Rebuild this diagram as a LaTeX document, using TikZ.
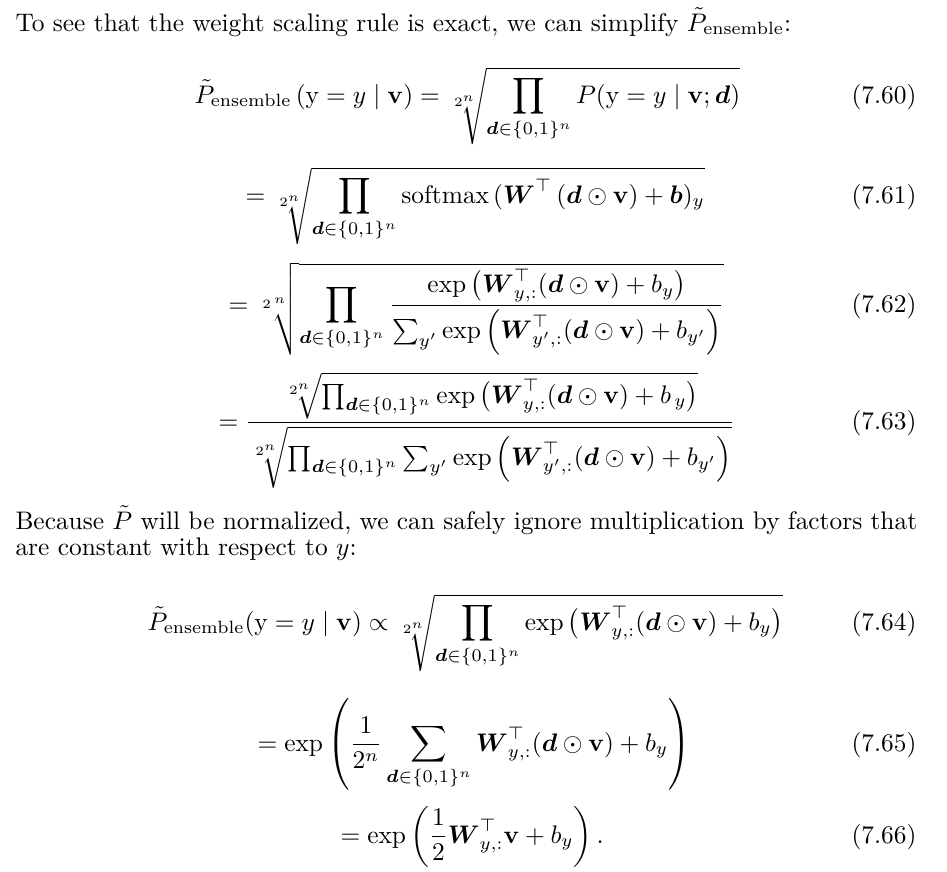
\documentclass[tikz,border=0pt]{standalone}
\usepackage{amsmath,amssymb}
\newcommand{\Pens}{\tilde{P}_{\text{ensemble}}}
\newcommand{\dvec}{\boldsymbol{d}}
\newcommand{\Wy}[1]{\boldsymbol{W}_{#1,:}^{\top}}
\newcommand{\dset}{\dvec\in\{0,1\}^n}
\begin{document}
\begin{tikzpicture}[x=0.3937pt,y=-0.3937pt,
    eqn/.style={anchor=base west,inner sep=0pt},
    eqnum/.style={anchor=base east,inner sep=0pt},
    textline/.style={anchor=base west,inner sep=0pt}]
            \useasboundingbox (0,0) rectangle (947,871);
            \node[textline] (intro) at (15,31)
              {To see that the weight scaling rule is exact, we can simplify $\Pens$:};
            \node[eqn] (e60) at (194,103)
              {$\displaystyle \Pens\,(\mathrm{y}=y\mid\mathbf{v}) = \sqrt[2^n]{\prod_{\dset} P(\mathrm{y}=y\mid\mathbf{v};\dvec)}$};
            \node[eqn] (e61) at (245,203)
              {$\displaystyle = \sqrt[2^n]{\prod_{\dset} \operatorname{softmax}\,(\boldsymbol{W}^{\top}\,(\dvec\odot\mathbf{v})+\boldsymbol{b})_y}$};
            \node[eqn] (e62) at (228,312)
              {$\displaystyle = \sqrt[2^{\,n}]{\prod_{\dset} \frac{\exp\,\bigl(\Wy{y}(\dvec\odot\mathbf{v})+b_y\bigr)}{\sum_{y'}\exp\,\Bigl(\Wy{y'}(\dvec\odot\mathbf{v})+b_{y'}\Bigr)}}$};
            \node[eqn] (e63) at (218,429)
              {$\displaystyle = \frac{\sqrt[2^n]{\prod_{\dset}\exp\,\bigl(\Wy{y}(\dvec\odot\mathbf{v})+b_{\,y}\bigr)}}{\sqrt[2^n]{\prod_{\dset}\sum_{y'}\exp\,\Bigl(\Wy{y'}(\dvec\odot\mathbf{v})+b_{y'}\Bigr)}}$};
            \node[textline] (because) at (15,529)
              {\makebox[355pt][s]{Because $\tilde{P}$ will be normalized, we can safely ignore multiplication by factors that}};
            \node[textline] (constant) at (15,555)
              {are constant with respect to $y$:};
            \node[eqn] (e64) at (147,630)
              {$\displaystyle \Pens(\mathrm{y}=y\mid\mathbf{v}) \propto \sqrt[2^n]{\prod_{\dset}\exp\,\bigl(\Wy{y}(\dvec\odot\mathbf{v})+b_y\bigr)}$};
            \node[eqn] (e65) at (257,751)
              {$\displaystyle = \exp\left(\frac{1}{2^n}\sum_{\dset}\Wy{y}(\dvec\odot\mathbf{v})+b_y\right)$};
            \node[eqn] (e66) at (340,843)
              {$\displaystyle = \exp\left(\frac{1}{2}\Wy{y}\mathbf{v}+b_y\right).$};
            % equation numbers
            \foreach \num/\ypos in {60/103,61/203,62/312,63/429,64/630,65/751,66/843}
              \node[eqnum] (n\num) at (917,\ypos) {(7.\num)};
            \end{tikzpicture}
\end{document}
